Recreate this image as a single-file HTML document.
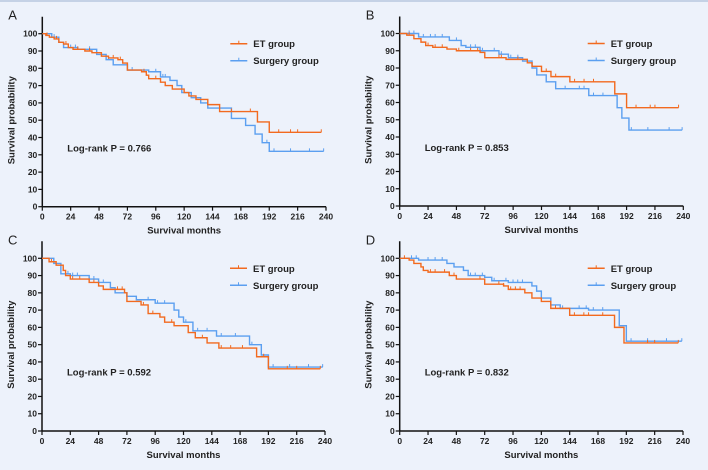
<!DOCTYPE html>
<html><head><meta charset="utf-8"><style>
html,body{margin:0;padding:0;background:#edf2fb;}
svg{display:block;font-family:"Liberation Sans",sans-serif;}
</style></head><body>
<svg id="chart" width="708" height="470">
<rect x="0" y="0" width="708" height="470" fill="#edf2fb"/>
<line x1="0" y1="1" x2="708" y2="1" stroke="#c5d2e6" stroke-width="2"/>
</svg>
<script>
const xTicks=[0,24,48,72,96,120,144,168,192,216,240];
const yTicks=[0,10,20,30,40,50,60,70,80,90,100];
const panelLabels=["A","B","C","D"];
const pValues=["0.766","0.853","0.592","0.832"];
const etA=[[0,100],[3,99],[6,98],[10,97],[14,95],[18,94],[22,92],[26,91],[36,90],[42,89],[50,87],[56,86],[64,85],[68,83],[72,79],[84,78],[88,76],[90,74],[100,72],[104,70],[110,68],[120,66],[124,64],[130,62],[140,59],[150,55],[182,49],[192,43],[236,43]];
const sgA=[[0,100],[8,98],[14,95],[18,92],[30,91],[46,88],[54,85],[60,82],[72,79],[90,78],[100,75],[108,73],[114,70],[118,66],[126,63],[134,60],[140,57],[160,51],[172,47],[180,42],[186,37],[192,32],[238,32]];
const etB=[[0,100],[6,99],[12,97],[18,95],[22,93],[28,92],[40,91],[48,90],[68,89],[72,86],[90,85],[108,83],[112,81],[120,78],[128,75],[144,72],[182,65],[192,57],[236,57]];
const sgB=[[0,100],[16,98],[42,96],[52,93],[56,92],[68,90],[84,88],[92,86],[104,84],[112,80],[116,76],[124,72],[132,68],[160,64],[184,57],[188,51],[194,44],[239,44]];
const etC=[[0,100],[6,98],[12,96],[18,93],[20,90],[24,88],[40,86],[48,84],[52,82],[70,80],[72,75],[84,73],[90,68],[100,66],[104,63],[112,61],[124,57],[130,54],[140,51],[150,48],[182,43],[192,36],[236,36]];
const sgC=[[0,100],[10,97],[16,91],[24,90],[40,88],[48,86],[58,83],[62,80],[72,78],[80,76],[96,74],[112,70],[116,66],[120,63],[128,58],[148,55],[176,50],[186,44],[192,37],[238,37]];
const etD=[[0,100],[8,99],[12,97],[18,95],[20,93],[24,92],[42,90],[48,88],[72,85],[88,84],[92,82],[106,80],[112,77],[120,75],[128,71],[144,67],[182,60],[190,51],[236,51]];
const sgD=[[0,100],[16,99],[40,97],[46,95],[54,93],[58,90],[72,89],[78,87],[92,86],[112,84],[116,81],[120,77],[128,73],[136,71],[160,70],[186,61],[192,52],[239,52]];
const etCens=[[4,12,20,30,40,60,66,86,96,140,160,176,200,210,216,236],[8,24,30,36,50,60,66,84,86,100,124,132,148,156,164,200,212,216,236],[8,18,26,32,44,64,68,86,94,110,136,152,160,170,188,208,216,236],[4,26,30,38,46,68,84,88,94,98,102,132,148,156,160,172,210,216,236]];
const sgCens=[[10,24,28,40,56,76,96,102,104,160,190,196,210,226,238],[8,12,20,26,30,36,48,60,64,70,80,86,94,100,140,152,156,164,172,196,210,228,239],[22,26,30,44,52,72,90,98,104,122,132,140,152,164,178,196,210,226,238],[10,14,24,30,36,60,64,70,80,90,96,100,104,138,152,158,164,172,196,210,226,239]];
const etSeries=[etA,etB,etC,etD], sgSeries=[sgA,sgB,sgC,sgD];
const frames=[{x0:42.3,x1:326,y0:206.7,y1:33.7},{x0:399.7,x1:683.3,y0:206,y1:33.5},{x0:42,x1:325,y0:431,y1:258.3},{x0:399.7,x1:683,y0:431,y1:258.3}];
const ORANGE="#f26a1f", BLUE="#5b9ff0";
const svg=document.getElementById('chart');
const NS="http://www.w3.org/2000/svg";
function mk(tag,attrs,parent){const e=document.createElementNS(NS,tag);for(const k in attrs)e.setAttribute(k,attrs[k]);(parent||svg).appendChild(e);return e;}
function survAt(s,t){let v=s[0][1];for(const p of s){if(p[0]<=t)v=p[1];}return v;}
frames.forEach((f,i)=>{
  const sx=t=>f.x0+(t/240)*(f.x1-f.x0);
  const sy=v=>f.y0-(v/100)*(f.y0-f.y1);
  const g=mk('g',{});
  
  
  const lab=mk('text',{x:f.x0-34,y:f.y1-14,'font-size':13,fill:'#222'},g);lab.textContent=panelLabels[i];
  
  const ya=mk('line',{x1:f.x0,y1:f.y0,x2:f.x0,y2:f.y1-17,stroke:'#111','stroke-width':1.5},g);
  
  const xa=mk('line',{x1:f.x0,y1:f.y0,x2:f.x1,y2:f.y0,stroke:'#111','stroke-width':1.5},g);
  
  yTicks.forEach(v=>{
    mk('line',{x1:f.x0-4,y1:sy(v),x2:f.x0,y2:sy(v),stroke:'#111','stroke-width':1.2},g);
    const t=mk('text',{x:f.x0-5,y:sy(v)+3,'font-size':8.5,'font-weight':'bold','text-anchor':'end',fill:'#222'},g);t.textContent=v;
    
  });
  xTicks.forEach(v=>{
    mk('line',{x1:sx(v),y1:f.y0,x2:sx(v),y2:f.y0+4,stroke:'#111','stroke-width':1.2},g);
    const t=mk('text',{x:sx(v),y:f.y0+13,'font-size':8.5,'font-weight':'bold','text-anchor':'middle',fill:'#222'},g);t.textContent=v;
    
  });
  const xt=mk('text',{x:(f.x0+f.x1)/2,y:f.y0+27,'font-size':9.5,'font-weight':'bold','text-anchor':'middle',fill:'#222'},g);xt.textContent='Survival months';
  
  const cy=(f.y0+f.y1)/2, cx=f.x0-28;
  const yt=mk('text',{x:cx,y:cy,'font-size':9.5,'font-weight':'bold','text-anchor':'middle',fill:'#222',transform:`rotate(-90 ${cx} ${cy})`},g);yt.textContent='Survival probability';
  
  [[sgSeries[i],sgCens[i],BLUE,'surgery'],[etSeries[i],etCens[i],ORANGE,'et']].forEach(([s,c,col,nm])=>{
    let d=`M${sx(s[0][0])},${sy(s[0][1])}`;
    for(let k=1;k<s.length;k++){d+=` H${sx(s[k][0])} V${sy(s[k][1])}`;}
    const p=mk('path',{d:d,fill:'none',stroke:col,'stroke-width':1.4},g);
    
    c.forEach(t=>{const y=sy(survAt(s,t));const m=mk('line',{x1:sx(t),y1:y-3,x2:sx(t),y2:y,stroke:col,'stroke-width':1},g);
      });
  });
  const lx=f.x0+188, ly=f.y1+10;
  [[ORANGE,'ET group',0],[BLUE,'Surgery group',17]].forEach(([col,txt,dy])=>{
    const lg=mk('g',{},g);
    mk('line',{x1:lx,y1:ly+dy,x2:lx+17,y2:ly+dy,stroke:col,'stroke-width':1.5},lg);
    mk('line',{x1:lx+8.5,y1:ly+dy-3,x2:lx+8.5,y2:ly+dy,stroke:col,'stroke-width':1},lg);
    const t=mk('text',{x:lx+23,y:ly+dy+3.5,'font-size':9.5,'font-weight':'bold',fill:'#222'},lg);t.textContent=txt;
  });
  const pt=mk('text',{x:f.x0+25,y:sy(32),'font-size':9.5,'font-weight':'bold',fill:'#222'},g);pt.textContent='Log-rank P = '+pValues[i];
  
});
</script>
</body></html>
